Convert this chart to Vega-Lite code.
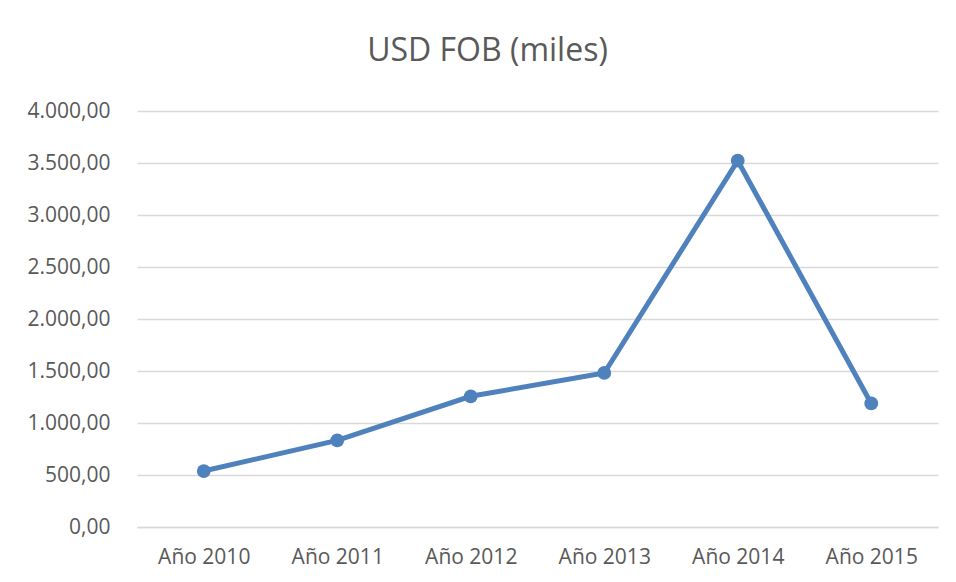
{
  "$schema": "https://vega.github.io/schema/vega-lite/v6.json",
  "width": 801,
  "height": 416,
  "autosize": {"type": "none"},
  "padding": {"left": 137, "top": 111, "right": 18, "bottom": 55},
  "background": "white",
  "config": {
    "locale": {"number": {"decimal": ",", "thousands": ".", "grouping": [3], "currency": ["", ""]}},
    "view": {"stroke": null},
    "font": "Open Sans"
  },
  "title": {
    "text": "USD FOB (miles)",
    "fontSize": 32,
    "font": "Open Sans",
    "fontWeight": "normal",
    "color": "#595959",
    "anchor": "middle",
    "offset": 32,
    "dx": -50
  },
  "data": {
    "values": [
      {"anio": "Año 2010", "valor": 538},
      {"anio": "Año 2011", "valor": 833},
      {"anio": "Año 2012", "valor": 1257},
      {"anio": "Año 2013", "valor": 1481},
      {"anio": "Año 2014", "valor": 3522},
      {"anio": "Año 2015", "valor": 1188}
    ]
  },
  "mark": {"type": "line", "color": "#4f81bd", "strokeWidth": 5, "point": {"size": 190, "filled": true, "color": "#4f81bd", "opacity": 1}},
  "encoding": {
    "x": {
      "field": "anio", "type": "ordinal", "title": null,
      "scale": {"type": "point", "padding": 0.5},
      "axis": {"labelAngle": 0, "labelFontSize": 21, "labelColor": "#595959", "labelPadding": 19, "ticks": false, "domain": true, "domainColor": "#d9d9d9", "domainWidth": 1.5, "grid": false}
    },
    "y": {
      "field": "valor", "type": "quantitative", "title": null,
      "scale": {"domain": [0, 4000], "nice": false},
      "axis": {"values": [0, 500, 1000, 1500, 2000, 2500, 3000, 3500, 4000], "format": ",.2f", "labelFontSize": 21, "labelColor": "#595959", "labelPadding": 27, "ticks": false, "domain": false, "gridColor": "#d9d9d9", "gridWidth": 1.5}
    }
  }
}
